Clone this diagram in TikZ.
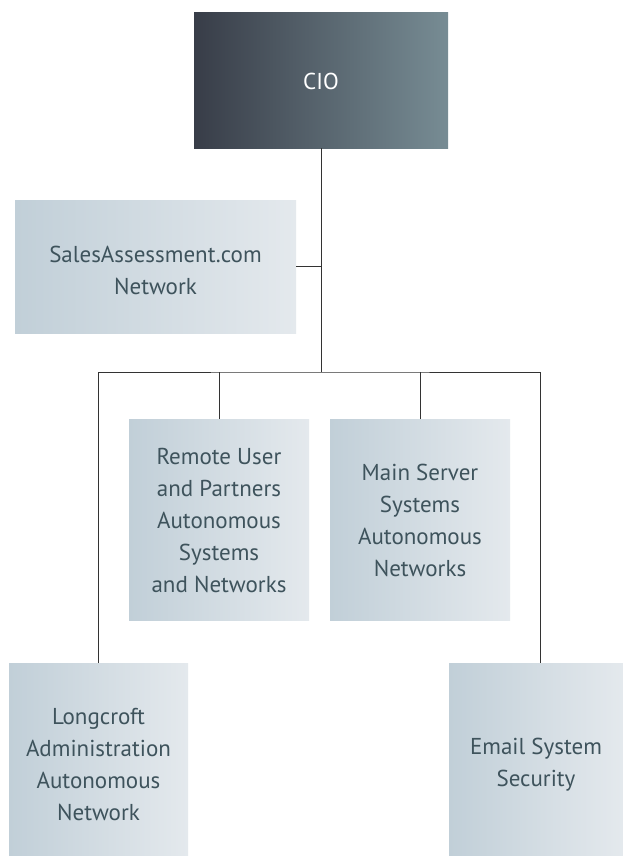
\documentclass[tikz,border=0pt]{standalone}
\usepackage{fontspec}
\setmainfont{PT Sans}
\usetikzlibrary{calc}
\definecolor{cioL}{HTML}{383D48}
\definecolor{cioR}{HTML}{778C94}
\definecolor{boxL}{HTML}{C1CFD8}
\definecolor{boxR}{HTML}{E4E9ED}
\definecolor{txt}{HTML}{3E535C}
\definecolor{wire}{HTML}{333333}
\tikzset{
  panel/.style={rectangle, inner sep=0pt, outer sep=0pt,
    left color=boxL, right color=boxR},
  headpanel/.style={panel, left color=cioL, right color=cioR},
  caption/.style={inner sep=0pt, align=center, text=txt,
    font=\fontsize{23}{32}\selectfont},
  conn/.style={draw=wire, line width=0.9pt},
}
\begin{document}
\begin{tikzpicture}[x=1pt,y=-1pt]
  \useasboundingbox (0,0) rectangle (623,856);
  \fill[white] (0,0) rectangle (623,856);

  % boxes
  \node[headpanel, minimum width=254pt, minimum height=135pt] (cio) at (321,80.5) {};
  \node[caption, text=white] at (321,81) {CIO};

  \node[panel, minimum width=281pt, minimum height=133pt] (sales) at (155.5,266.5) {};
  \node[caption] at (155.5,270) {SalesAssessment.com\\Network};

  \node[panel, minimum width=180pt, minimum height=201pt] (remote) at (219,519.5) {};
  \node[caption] at (219,520) {Remote User\\and Partners\\Autonomous\\Systems\\and Networks};

  \node[panel, minimum width=180pt, minimum height=201pt] (main) at (420,519.5) {};
  \node[caption] at (420,520) {Main Server\\Systems\\Autonomous\\Networks};

  \node[panel, minimum width=179pt, minimum height=193pt] (lc) at (98.5,759.5) {};
  \node[caption] at (98.5,765) {Longcroft\\Administration\\Autonomous\\Network};

  \node[panel, minimum width=174pt, minimum height=193pt] (em) at (536,759.5) {};
  \node[caption] at (536,765) {Email System\\Security};

  % connectors
  \coordinate (bus) at (321,372);
  \coordinate (emN) at ($(em.north)+(4,0)$);
  \draw[conn] (cio.south) -- (bus);
  \draw[conn] (sales.east) -- (sales.east -| bus);
  \draw[conn] (lc.north) |- (bus) -| (emN);
  \draw[conn] (remote.north) -- (remote.north |- bus);
  \draw[conn] (main.north) -- (main.north |- bus);
\end{tikzpicture}
\end{document}
